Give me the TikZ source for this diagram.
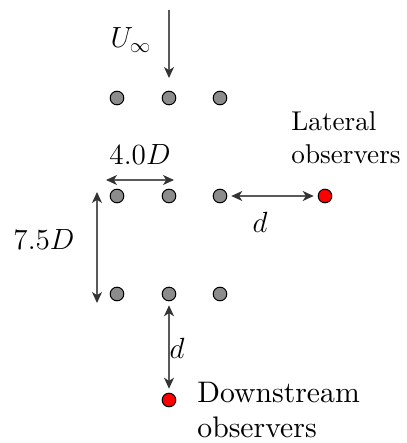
\RequirePackage{fix-cm}
\documentclass[tikz,border=0pt]{standalone}
\usepackage{fontspec}
\setmainfont{lmroman10-regular}[Extension=.otf]
\usetikzlibrary{arrows.meta}
\begin{document}
\begin{tikzpicture}[x=0.5pt,y=-0.5pt,
  every node/.style={font=\fontsize{14.6}{17.5}\selectfont, inner sep=0pt},
  cyl/.style={circle, draw=black, fill=black!45, line width=0.5pt, minimum size=6.8pt, inner sep=0pt},
  obs/.style={circle, draw=black, fill=red, line width=0.5pt, minimum size=6.8pt, inner sep=0pt},
  dim/.style={draw=black!65, line width=0.6pt, {Stealth[length=5.5pt,width=5pt,inset=1.6pt,color=black!80]}-{Stealth[length=5.5pt,width=5pt,inset=1.6pt,color=black!80]}},
  flow/.style={draw=black!65, line width=0.6pt, -{Stealth[length=5.5pt,width=5pt,inset=1.6pt,color=black!80]}}]
\useasboundingbox (0,0) rectangle (406,443);
% cylinders
\node[cyl] (a1) at (117,98) {};
\node[cyl] (a2) at (169,98) {};
\node[cyl] (a3) at (220,98) {};
\node[cyl] (b1) at (117,196) {};
\node[cyl] (b2) at (169,196) {};
\node[cyl] (b3) at (220,196) {};
\node[cyl] (c1) at (117,294) {};
\node[cyl] (c2) at (169,294) {};
\node[cyl] (c3) at (220,294) {};
% observers
\node[obs] (lat) at (325,196) {};
\node[obs] (down) at (169,400) {};
% free stream
\coordinate (u0) at (169,10);
\draw[flow] (u0) -- (169,78) coordinate (u1);
\node (ulab) at (131,40) {$U_\infty$};
% 4.0D
\coordinate (h0) at (106,180);
\coordinate (h1) at (174,180);
\draw[dim] (h0) -- (h1);
\node (hlab) at (140,155) {$4.0D$};
% lateral d
\draw[dim] ([xshift=2pt]b3.east) -- ([xshift=-2pt]lat.west);
\node (dlat) at (260,222) {$d$};
% 7.5D
\coordinate (v0) at (97,192);
\coordinate (v1) at (97,303);
\draw[dim] (v0) -- (v1);
\node (vlab) at (44,240) {$7.5D$};
% downstream d
\draw[dim] ([yshift=-2pt]c2.south) -- ([yshift=2pt]down.north);
\node (ddown) at (177,348) {$d$};
% labels
\node[anchor=west, align=left, font=\fontsize{13.6}{16.5}\selectfont] (latlab) at (291,138) {Lateral\\observers};
\node[anchor=west, align=left, font=\fontsize{14.85}{17.5}\selectfont] (downlab) at (197,410) {Downstream\\observers};
\end{tikzpicture}
\end{document}
